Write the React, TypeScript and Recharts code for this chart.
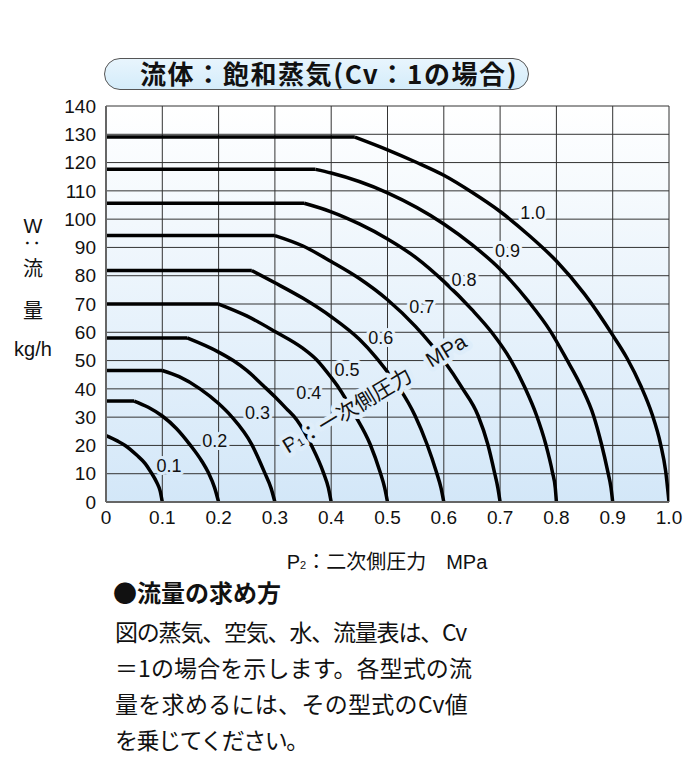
import React from 'react';
import { LineChart, Line, XAxis, YAxis, CartesianGrid, ReferenceDot } from 'recharts';

// P2 (secondary pressure, MPa) and W (flow, kg/h), one pair per P1 curve.
// For curves with a flat (critical-flow) part, the first two points share the same W.
const p2_01 = [0, 0.02, 0.034, 0.055, 0.07, 0.08, 0.09, 0.096, 0.1];
const w_01 = [23.5, 21.6, 20, 16.5, 13.5, 10.5, 7, 4, 0];

const p2_02 = [0, 0.05, 0.075, 0.1, 0.125, 0.149, 0.17, 0.182, 0.193, 0.2];
const w_02 = [35.7, 35.7, 33.5, 30.4, 26, 20.3, 14.5, 10.3, 5, 0];

const p2_03 = [0, 0.1, 0.13, 0.167, 0.2, 0.223, 0.259, 0.282, 0.293, 0.3];
const w_03 = [46.5, 46.5, 44.3, 40, 34.8, 30.2, 20.3, 10.3, 5, 0];

const p2_04 = [0, 0.144, 0.2, 0.226, 0.25, 0.28, 0.3, 0.32, 0.339, 0.365, 0.386, 0.395, 0.4];
const w_04 = [58, 58, 53, 50, 46.5, 41, 37.2, 33.1, 29, 20, 10.5, 5, 0];

const p2_05 = [0, 0.2, 0.25, 0.3, 0.35, 0.374, 0.4, 0.413, 0.442, 0.469, 0.487, 0.495, 0.5];
const w_05 = [70, 70, 65.8, 60.3, 54.3, 50.3, 44, 40.5, 30.8, 20.5, 10.5, 5, 0];

const p2_06 = [0, 0.259, 0.3, 0.35, 0.4, 0.45, 0.478, 0.5, 0.522, 0.549, 0.57, 0.587, 0.595, 0.6];
const w_06 = [81.8, 81.8, 77.5, 72, 65.5, 57.5, 51.5, 46, 40, 30.5, 20.5, 10.5, 5, 0];

const p2_07 = [0, 0.3, 0.35, 0.4, 0.45, 0.5, 0.55, 0.6, 0.632, 0.661, 0.678, 0.69, 0.696, 0.7];
const w_07 = [94.2, 94.2, 90.5, 85, 79, 71.5, 62, 50, 40.5, 30.5, 20.5, 10.5, 5, 0];

const p2_08 = [0, 0.352, 0.4, 0.45, 0.5, 0.55, 0.6, 0.65, 0.685, 0.718, 0.744, 0.765, 0.781, 0.793, 0.798, 0.8];
const w_08 = [105.6, 105.6, 102.6, 98.3, 93, 86.5, 78, 68, 60, 50.5, 40.5, 30.5, 20.5, 10.5, 5, 0];

const p2_09 = [0, 0.372, 0.4, 0.5, 0.6, 0.65, 0.7, 0.75, 0.789, 0.818, 0.845, 0.866, 0.88, 0.891, 0.897, 0.9];
const w_09 = [117.6, 117.6, 116.3, 109.3, 98.3, 91, 82.3, 71, 60.5, 50.5, 40.5, 30.5, 20.5, 11, 5, 0];

const p2_10 = [0, 0.442, 0.5, 0.55, 0.6, 0.65, 0.7, 0.75, 0.8, 0.85, 0.9, 0.925, 0.95, 0.97, 0.985, 0.994, 1.0];
const w_10 = [129, 129, 124.5, 120.2, 115.5, 109.5, 102.7, 94.5, 85.2, 73.5, 59, 51, 41, 31, 20.5, 11, 0];

// curve labels (P1 values) and their positions in data units
const curveLabels = ['0.1', '0.2', '0.3', '0.4', '0.5', '0.6', '0.7', '0.8', '0.9', '1.0'];
const labelX = [0.112, 0.193, 0.269, 0.36, 0.428, 0.488, 0.561, 0.636, 0.713, 0.758];
const labelY = [12.7, 21.7, 31.3, 38.7, 46.8, 58.1, 68.8, 78.6, 88.8, 102.3];

const xTicks = [0, 0.1, 0.2, 0.3, 0.4, 0.5, 0.6, 0.7, 0.8, 0.9, 1.0];
const yTicks = [0, 10, 20, 30, 40, 50, 60, 70, 80, 90, 100, 110, 120, 130, 140];

const p1AxisLabelPos = { x: 0.476, y: 38.5 };

const bodyLines = [
  '図の蒸気、空気、水、流量表は、Cv',
  '＝1の場合を示します。各型式の流',
  '量を求めるには、その型式のCv値',
  'を乗じてください。',
];
const bodySpacing = [-1.2, 0.1, 0.3, -1.5];

const seriesPairs: [number[], number[]][] = [
  [p2_01, w_01], [p2_02, w_02], [p2_03, w_03], [p2_04, w_04], [p2_05, w_05],
  [p2_06, w_06], [p2_07, w_07], [p2_08, w_08], [p2_09, w_09], [p2_10, w_10],
];
// split each curve into its flat (straight) part and its falling (curved) part
const flatParts: { x: number; w: number }[][] = [];
const curvedParts: { x: number; w: number }[][] = [];
seriesPairs.forEach(([xs, ws]) => {
  const pts = xs.map((x, i) => ({ x, w: ws[i] }));
  if (ws.length > 1 && ws[0] === ws[1]) {
    flatParts.push(pts.slice(0, 2));
    curvedParts.push(pts.slice(1));
  } else {
    curvedParts.push(pts);
  }
});

const LATIN = '"Liberation Sans", Arial, sans-serif';
const CJK = '"Noto Sans CJK JP", "Liberation Sans", sans-serif';

function CurveLabel(props: any) {
  const { cx, cy, text } = props;
  return (
    <text
      x={cx}
      y={cy}
      textAnchor="middle"
      dominantBaseline="central"
      fontSize={18}
      fontFamily={LATIN}
      fill="#111"
      stroke="url(#bgU)"
      strokeWidth={6}
      strokeLinejoin="round"
      paintOrder="stroke"
    >
      {text}
    </text>
  );
}

function P1Label(props: any) {
  const { cx, cy } = props;
  return (
    <text
      x={cx}
      y={cy}
      transform={`rotate(-31 ${cx} ${cy})`}
      textAnchor="middle"
      dominantBaseline="central"
      fontSize={21}
      fontFamily={CJK}
      fill="#111"
      stroke="url(#bgU)"
      strokeWidth={9}
      strokeLinejoin="round"
      paintOrder="stroke"
    >
      <tspan fontFamily={LATIN}>P</tspan>
      <tspan fontSize={11} dy={4} fontFamily={LATIN}>1</tspan>
      <tspan dy={-4}>：一次側圧力　</tspan>
      <tspan fontFamily={LATIN}>MPa</tspan>
    </text>
  );
}

const abs = (left: number, top: number, extra: React.CSSProperties = {}): React.CSSProperties => ({
  position: 'absolute',
  left,
  top,
  whiteSpace: 'nowrap',
  ...extra,
});

export default function App() {
  return (
    <div style={{ position: 'absolute', left: 0, top: 0, width: 700, height: 758, background: '#fff', color: '#111', overflow: 'hidden' }}>
      {/* title pill */}
      <div
        style={abs(104, 58, {
          width: 425,
          height: 32,
          boxSizing: 'border-box',
          border: '1.5px solid #555',
          borderRadius: 16,
          background: 'linear-gradient(#e8f5fd, #d4ecfa)',
        })}
      />
      <div style={abs(140, 57, { height: 32, lineHeight: '32px', fontSize: 26, fontWeight: 700, fontFamily: CJK, letterSpacing: 1.6 })}>
        流体：飽和蒸気(Cv：1の場合)
      </div>

      {/* y axis title (vertical) */}
      <div style={abs(13, 214, { width: 40, textAlign: 'center', fontSize: 20, lineHeight: '24px', fontFamily: LATIN })}>W</div>
      <div style={abs(13, 231, { width: 40, textAlign: 'center', fontSize: 18, lineHeight: '24px', fontFamily: CJK, transform: 'rotate(90deg)' })}>：</div>
      <div style={abs(13, 256, { width: 40, textAlign: 'center', fontSize: 20, lineHeight: '24px', fontFamily: CJK })}>流</div>
      <div style={abs(13, 298, { width: 40, textAlign: 'center', fontSize: 20, lineHeight: '24px', fontFamily: CJK })}>量</div>
      <div style={abs(3, 337, { width: 60, textAlign: 'center', fontSize: 20, lineHeight: '24px', fontFamily: LATIN })}>kg/h</div>

      <div style={abs(0, 0)}>
        <LineChart width={700} height={600} margin={{ top: 106, right: 31, bottom: 68, left: 46 }}>
          <defs>
            <linearGradient id="bgGrad" x1="0" y1="0" x2="0" y2="1">
              <stop offset="0%" stopColor="#ffffff" />
              <stop offset="100%" stopColor="#d3e7f8" />
            </linearGradient>
            <linearGradient id="bgU" gradientUnits="userSpaceOnUse" x1="0" y1="106" x2="0" y2="502">
              <stop offset="0%" stopColor="#ffffff" />
              <stop offset="100%" stopColor="#d3e7f8" />
            </linearGradient>
          </defs>
          <CartesianGrid stroke="#333" strokeWidth={1} fill="url(#bgGrad)" fillOpacity={1} />
          <XAxis
            type="number"
            dataKey="x"
            domain={[0, 1]}
            ticks={xTicks}
            allowDataOverflow
            interval={0}
            tickSize={0}
            tickMargin={9}
            axisLine={{ stroke: '#666', strokeWidth: 2 }}
            tickLine={false}
            tickFormatter={(v: number) => (v === 0 ? '0' : v.toFixed(1))}
            tick={{ fontSize: 19, fill: '#111', fontFamily: LATIN }}
          />
          <YAxis
            type="number"
            domain={[0, 140]}
            ticks={yTicks}
            allowDataOverflow
            interval={0}
            width={60}
            tickSize={0}
            tickMargin={10}
            axisLine={{ stroke: '#666', strokeWidth: 2 }}
            tickLine={false}
            tick={{ fontSize: 19, fill: '#111', fontFamily: LATIN }}
          />
          {flatParts.map((d, i) => (
            <Line
              key={'f' + i}
              data={d}
              dataKey="w"
              type="linear"
              stroke="#000"
              strokeWidth={3.5}
              dot={false}
              activeDot={false}
              isAnimationActive={false}
            />
          ))}
          {curvedParts.map((d, i) => (
            <Line
              key={'c' + i}
              data={d}
              dataKey="w"
              type="monotone"
              stroke="#000"
              strokeWidth={3.5}
              strokeLinejoin="round"
              dot={false}
              activeDot={false}
              isAnimationActive={false}
            />
          ))}
          {curveLabels.map((t, i) => (
            <ReferenceDot
              key={t}
              x={labelX[i]}
              y={labelY[i]}
              r={0}
              ifOverflow="visible"
              shape={(p: any) => <CurveLabel {...p} text={t} />}
            />
          ))}
          <ReferenceDot
            x={p1AxisLabelPos.x}
            y={p1AxisLabelPos.y}
            r={0}
            ifOverflow="visible"
            shape={(p: any) => <P1Label {...p} />}
          />
        </LineChart>
      </div>

      {/* x axis title */}
      <div style={abs(187, 549, { width: 400, textAlign: 'center', fontSize: 20, lineHeight: '24px', fontFamily: CJK })}>
        <span style={{ fontFamily: LATIN }}>P</span>
        <span style={{ fontFamily: LATIN, fontSize: 11 }}>2</span>
        ：二次側圧力　<span style={{ fontFamily: LATIN }}>MPa</span>
      </div>

      {/* how to obtain flow */}
      <div style={abs(113, 576, { fontSize: 24, fontWeight: 700, lineHeight: '32px', fontFamily: CJK })}>●流量の求め方</div>
      <div style={abs(115, 613, { fontSize: 23, lineHeight: '36px', fontFamily: CJK })}>
        {bodyLines.map((t, i) => (
          <div key={i} style={{ letterSpacing: bodySpacing[i] }}>{t}</div>
        ))}
      </div>
    </div>
  );
}
